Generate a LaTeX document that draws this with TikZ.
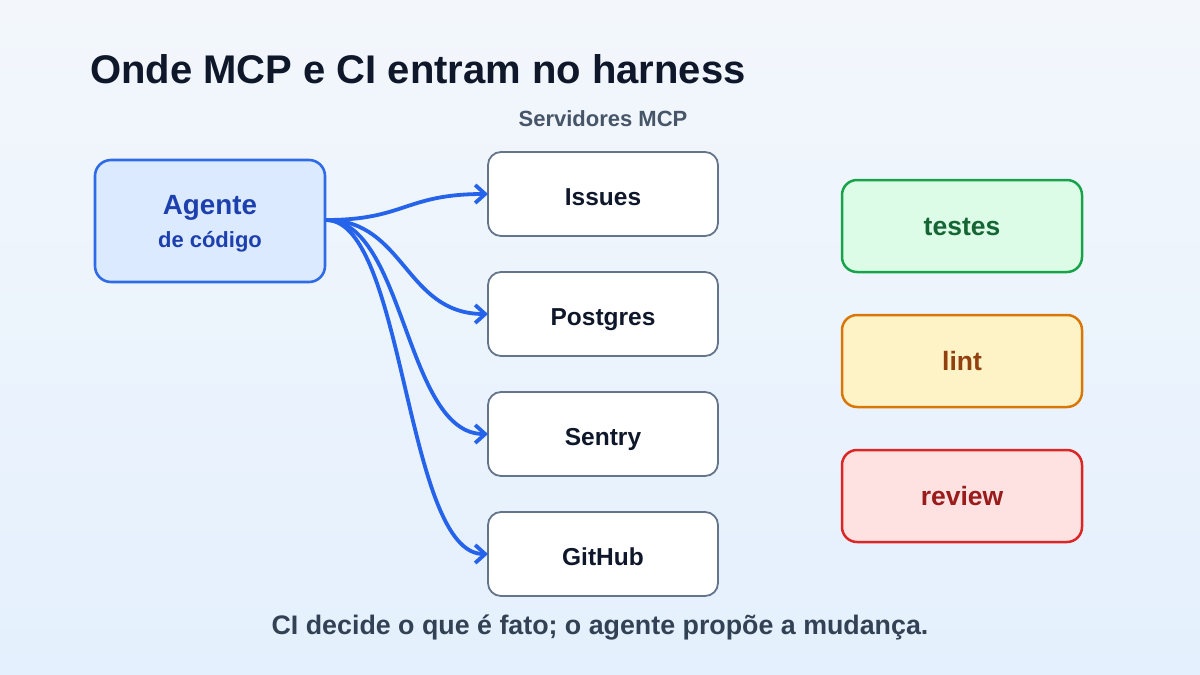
\documentclass[tikz,border=0pt]{standalone}
\usepackage{fontspec}
\setmainfont{Liberation Sans}
\usetikzlibrary{arrows.meta,positioning}
\definecolor{bgA}{HTML}{F3F7FC}
\definecolor{bgB}{HTML}{E4F0FD}
\definecolor{ink}{HTML}{0F172A}
\definecolor{slate}{HTML}{475569}
\definecolor{slateD}{HTML}{334155}
\definecolor{boxline}{HTML}{64748B}
\definecolor{blueL}{HTML}{DBEAFE}
\definecolor{blueS}{HTML}{2F6BE6}
\definecolor{blueT}{HTML}{1E40AF}
\definecolor{arrowc}{HTML}{2563EB}
\definecolor{greenL}{HTML}{DCFCE7}
\definecolor{greenS}{HTML}{16A34A}
\definecolor{greenT}{HTML}{166534}
\definecolor{amberL}{HTML}{FEF3C7}
\definecolor{amberS}{HTML}{D97706}
\definecolor{amberT}{HTML}{92400E}
\definecolor{redL}{HTML}{FEE2E2}
\definecolor{redS}{HTML}{DC2626}
\definecolor{redT}{HTML}{991B1B}
\begin{document}
\begin{tikzpicture}[x=1pt,y=-1pt,
  every node/.style={inner sep=0pt,outer sep=0pt},
  mcpbox/.style={draw=boxline,line width=1.8pt,fill=white,rounded corners=13pt,
    minimum width=230pt,minimum height=84pt},
  mcptext/.style={anchor=base,font=\bfseries\fontsize{24.5}{28}\selectfont,text=ink},
  cibox/.style={line width=2.5pt,rounded corners=15pt,minimum width=240pt,minimum height=92pt},
  citext/.style={anchor=base,font=\bfseries\fontsize{26.5}{30}\selectfont},
  link/.style={draw=arrowc,line width=3.8pt,-{Straight Barb[length=10pt,width=18pt,line width=3.8pt]}}
]
\shade[left color=bgA,right color=bgB,shading angle=0] (0,0) rectangle (1200,675);
\useasboundingbox (0,0) rectangle (1200,675);

\node[anchor=base west,font=\bfseries\fontsize{40}{46}\selectfont,text=ink] (title) at (90,83) {Onde MCP e CI entram no harness};

\node[anchor=base,font=\bfseries\fontsize{22}{26}\selectfont,text=slate] (srv) at (603,126) {Servidores MCP};

\node[draw=blueS,fill=blueL,line width=2.6pt,rounded corners=16pt,minimum width=230pt,minimum height=122pt] (agent) at (210,221) {};
\node[anchor=base,font=\bfseries\fontsize{27.8}{32}\selectfont,text=blueT] (agentA) at (210,214) {Agente};
\node[anchor=base,font=\bfseries\fontsize{22}{26}\selectfont,text=blueT] (agentB) at (210,247) {de código};

\node[mcpbox] (issues) at (603,194) {};
\node[mcpbox] (postgres) at (603,314) {};
\node[mcpbox] (sentry) at (603,434) {};
\node[mcpbox] (github) at (603,554) {};
\node[mcptext] (issuesT) at (603,205) {Issues};
\node[mcptext] (postgresT) at (603,325) {Postgres};
\node[mcptext] (sentryT) at (603,445) {Sentry};
\node[mcptext] (githubT) at (603,565) {GitHub};

\node[cibox,draw=greenS,fill=greenL] (testes) at (962,226) {};
\node[cibox,draw=amberS,fill=amberL] (lint) at (962,361) {};
\node[cibox,draw=redS,fill=redL] (review) at (962,496) {};
\node[citext,text=greenT] (testesT) at (962,235) {testes};
\node[citext,text=amberT] (lintT) at (962,370) {lint};
\node[citext,text=redT] (reviewT) at (962,505) {review};

\coordinate (src) at (326,220);
\draw[link] (src) .. controls (405,220) and (405,194) .. (issues.west);
\draw[link] (src) .. controls (405,220) and (405,314) .. (postgres.west);
\draw[link] (src) .. controls (405,220) and (405,434) .. (sentry.west);
\draw[link] (src) .. controls (405,220) and (405,554) .. (github.west);

\node[anchor=base,font=\bfseries\fontsize{26.8}{30}\selectfont,text=slateD] (foot) at (600,634) {CI decide o que é fato; o agente propõe a mudança.};
\end{tikzpicture}
\end{document}
